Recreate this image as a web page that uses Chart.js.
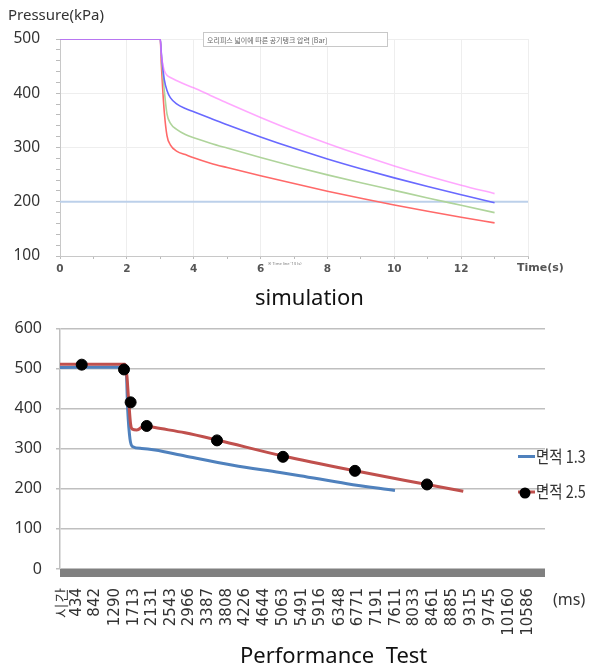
<!DOCTYPE html>
<html>
<head>
<meta charset="utf-8">
<script src="https://cdn.jsdelivr.net/npm/chart.js@4.4.0/dist/chart.umd.min.js"></script>
<style>
  body { margin: 0; background: #fff; width: 590px; height: 671px; position: relative; overflow: hidden; }
  #sim { position: absolute; left: 0; top: 0; }
  #perf { position: absolute; left: 0; top: 305px; }
  .cap { position: absolute; font-family: "Noto Sans", sans-serif; font-size: 22px; line-height: 22px; color: #111; white-space: pre; }
</style>
</head>
<body>
<canvas id="sim" width="590" height="285"></canvas>
<div class="cap" style="left:255px; top:285px;">simulation</div>
<canvas id="perf" width="590" height="366"></canvas>
<div class="cap" style="left:240px; top:643px;">Performance  Test</div>

<script>
// ---- simulation (top chart) ----
const SIM_TITLE = '오리피스 넓이에 따른 공기탱크 압력 [Bar]';
const SIM_Y_TITLE = 'Pressure(kPa)';
const SIM_X_TITLE = 'Time(s)';
const SIM_NOTE = '※ Time line \'13 (s)';

// time in seconds
const SIM_TIME = [0, 3, 3.03, 3.07, 3.12, 3.2, 3.3, 3.5, 3.75, 4, 4.5, 5, 6, 7, 8, 9, 10, 11, 12, 13];
// tank pressure (kPa) for the four orifice areas
const SIM_PINK  = [500, 500, 472, 455, 442, 433, 429, 423, 416, 410, 396, 382, 355.5, 330.5, 307.5, 286, 266, 247.5, 230.5, 215];
const SIM_BLUE  = [500, 500, 475, 450, 425, 405, 392, 380, 372, 366, 354, 342, 319.5, 298.5, 279, 261, 244, 228, 213, 198];
const SIM_GREEN = [500, 500, 470, 440, 405, 362, 345, 333, 324, 318, 308, 299, 281.5, 265, 249.5, 235, 221, 207, 193.5, 180];
const SIM_RED   = [500, 500, 455, 410, 365, 322, 305, 293, 287, 281, 271, 263, 248, 233.5, 219.5, 206.5, 194, 182.5, 171.5, 161];
// 200 kPa reference line
const REF_TIME = [0, 14];
const REF_KPA = [200, 200];

// ---- performance test (bottom chart) ----
const PERF_X_UNIT = '(ms)';
const TICK_LABELS = ['시간', '434', '842', '1290', '1713', '2131', '2543', '2966', '3387', '3808', '4226', '4644',
  '5063', '5491', '5916', '6348', '6771', '7191', '7611', '8033', '8461', '8885', '9315', '9745', '10160', '10586'];
const HEADER_TICK_MS = 100; // where the '시간' header label sits

const AREA13_LABEL = '면적 1.3';
const AREA13_MS  = [51, 1537, 1575, 1627, 1679, 1890, 2190, 2865, 3946, 5004, 5454, 6512, 7592];
const AREA13_KPA = [503, 504, 397, 324, 306, 301, 297, 282, 259, 241, 233, 213, 196];

const AREA25_LABEL = '면적 2.5';
const AREA25_MS  = [51, 1514, 1550, 1600, 1640, 1679, 1778, 1965, 2190, 2865, 3585, 5071, 6692, 8313, 9130];
const AREA25_KPA = [511, 511, 490, 416, 362, 349, 347, 358, 353, 340, 322, 282, 245, 211, 194];
// black markers on the 2.5 series
const MARK_MS  = [540, 1492, 1641, 2003, 3585, 5071, 6692, 8313];
const MARK_KPA = [510, 498, 416, 357, 321, 280, 245, 211];

const pts = (xs, ys) => xs.map((x, i) => ({ x, y: ys[i] }));

const simDecor = {
  id: 'simDecor',
  afterDraw(chart) {
    const ctx = chart.ctx;
    const area = chart.chartArea;
    ctx.save();
    // axis titles
    ctx.fillStyle = '#333';
    ctx.font = '15px "Noto Sans"';
    ctx.textBaseline = 'alphabetic';
    ctx.fillText(SIM_Y_TITLE, 8, 20);
    ctx.fillStyle = '#555';
    ctx.font = 'bold 11px "DejaVu Sans"';
    ctx.textBaseline = 'top';
    ctx.fillText(SIM_X_TITLE, area.right - 11, area.bottom + 7);
    // little title box
    ctx.fillStyle = '#fff';
    ctx.strokeStyle = '#c8c8c8';
    ctx.lineWidth = 1;
    ctx.fillRect(203.5, 32.5, 184, 14);
    ctx.strokeRect(203.5, 32.5, 184, 14);
    ctx.fillStyle = '#666';
    ctx.font = '7px "Noto Sans CJK KR"';
    ctx.textBaseline = 'middle';
    ctx.fillText(SIM_TITLE, 207, 40);
    // tiny note below the axis
    ctx.font = '4px "Noto Sans"';
    ctx.fillStyle = '#777';
    ctx.fillText(SIM_NOTE, 268, area.bottom + 8);
    ctx.restore();
  }
};

new Chart(document.getElementById('sim'), {
  type: 'line',
  data: {
    datasets: [
      { label: 'pink', data: pts(SIM_TIME, SIM_PINK), borderColor: 'rgba(255,110,255,0.6)' },
      { label: 'blue', data: pts(SIM_TIME, SIM_BLUE), borderColor: 'rgb(105,105,255)' },
      { label: 'green', data: pts(SIM_TIME, SIM_GREEN), borderColor: 'rgb(175,212,155)' },
      { label: 'red', data: pts(SIM_TIME, SIM_RED), borderColor: 'rgb(255,105,105)' },
      { label: '200 kPa', data: pts(REF_TIME, REF_KPA), borderColor: '#bcd0ea', borderWidth: 2, cubicInterpolationMode: 'default', tension: 0 }
    ]
  },
  options: {
    responsive: false,
    animation: false,
    devicePixelRatio: 1,
    layout: { padding: { top: 39, right: 62, left: 0, bottom: 0 } },
    elements: {
      point: { radius: 0 },
      line: { borderWidth: 1.6, cubicInterpolationMode: 'monotone', fill: false }
    },
    plugins: { legend: { display: false }, tooltip: { enabled: false } },
    scales: {
      x: {
        type: 'linear', min: 0, max: 14,
        afterFit: s => { s.height = 29; },
        ticks: {
          stepSize: 1, autoSkip: false, maxRotation: 0, padding: 4, color: '#555',
          font: { family: 'DejaVu Sans', size: 10.5, weight: 'bold' },
          callback: v => (v % 2 === 0 && v < 14) ? String(v) : ''
        },
        grid: {
          color: c => (c.tick && c.tick.value % 2 === 0) ? '#eeeeee' : 'rgba(0,0,0,0)',
          tickColor: '#bbb', tickLength: 3
        },
        border: { color: '#c8c8c8' }
      },
      y: {
        min: 100, max: 500,
        afterFit: s => { s.width = 60; },
        ticks: {
          stepSize: 20, autoSkip: false, padding: 16, color: '#333',
          font: { family: 'Noto Sans', size: 15.5 },
          callback: v => v % 100 === 0 ? String(v) : ''
        },
        grid: {
          color: c => (c.tick && c.tick.value % 100 === 0) ? '#eeeeee' : 'rgba(0,0,0,0)',
          tickColor: '#bbb', tickLength: 4
        },
        border: { color: '#c8c8c8' }
      }
    }
  },
  plugins: [simDecor]
});

const tickValues = TICK_LABELS.map(l => l === '시간' ? HEADER_TICK_MS : Number(l));

const perfDecor = {
  id: 'perfDecor',
  afterDraw(chart) {
    const ctx = chart.ctx;
    const area = chart.chartArea;
    ctx.save();
    // thick axis bar
    ctx.fillStyle = '#808080';
    ctx.fillRect(area.left, area.bottom, area.right - area.left, 8);
    // unit
    ctx.fillStyle = '#333';
    ctx.font = '16px "Noto Sans"';
    ctx.textBaseline = 'middle';
    ctx.fillText(PERF_X_UNIT, 553, 295);
    // legend
    const items = [
      { label: AREA13_LABEL, color: '#4f81bd', y: 151.5, dot: false },
      { label: AREA25_LABEL, color: '#c0504d', y: 187, dot: true }
    ];
    items.forEach(it => {
      ctx.strokeStyle = it.color;
      ctx.lineWidth = 3;
      ctx.beginPath();
      ctx.moveTo(518, it.y);
      ctx.lineTo(535, it.y);
      ctx.stroke();
      if (it.dot) {
        ctx.fillStyle = '#000';
        ctx.beginPath();
        ctx.arc(525, it.y + 1, 5.5, 0, Math.PI * 2);
        ctx.fill();
      }
      ctx.save();
      ctx.translate(536, it.y);
      ctx.scale(0.85, 1);
      ctx.fillStyle = '#333';
      ctx.font = '17px "Noto Sans CJK KR"';
      ctx.textBaseline = 'middle';
      ctx.fillText(it.label, 0, 0);
      ctx.restore();
    });
    ctx.restore();
  }
};

new Chart(document.getElementById('perf'), {
  type: 'line',
  data: {
    datasets: [
      { label: 'markers', data: pts(MARK_MS, MARK_KPA), showLine: false, pointRadius: 5.5,
        pointBackgroundColor: '#000', pointBorderColor: '#000', borderColor: '#000' },
      { label: AREA25_LABEL, data: pts(AREA25_MS, AREA25_KPA), borderColor: '#c0504d' },
      { label: AREA13_LABEL, data: pts(AREA13_MS, AREA13_KPA), borderColor: '#4f81bd' }
    ]
  },
  options: {
    responsive: false,
    animation: false,
    devicePixelRatio: 1,
    layout: { padding: { top: 19, right: 45, left: 0, bottom: 0 } },
    elements: {
      point: { radius: 0 },
      line: { borderWidth: 3, cubicInterpolationMode: 'monotone', fill: false }
    },
    plugins: { legend: { display: false }, tooltip: { enabled: false } },
    scales: {
      x: {
        type: 'linear', min: 51, max: 10970,
        afterFit: s => { s.height = 102; },
        afterBuildTicks: s => { s.ticks = tickValues.map(v => ({ value: v })); },
        ticks: {
          autoSkip: false, minRotation: 90, maxRotation: 90, padding: 19, color: '#333',
          font: { family: 'DejaVu Sans', size: 15 },
          callback: (v, i) => TICK_LABELS[i]
        },
        grid: { display: false, drawTicks: false },
        border: { display: false }
      },
      y: {
        min: 0, max: 600,
        afterFit: s => { s.width = 60; },
        ticks: { stepSize: 100, padding: 14, color: '#333', font: { family: 'Noto Sans', size: 16 } },
        grid: { color: '#bfbfbf', lineWidth: 1.5, tickLength: 4 },
        border: { color: '#bfbfbf', width: 1.5 }
      }
    }
  },
  plugins: [perfDecor]
});
</script>
</body>
</html>
